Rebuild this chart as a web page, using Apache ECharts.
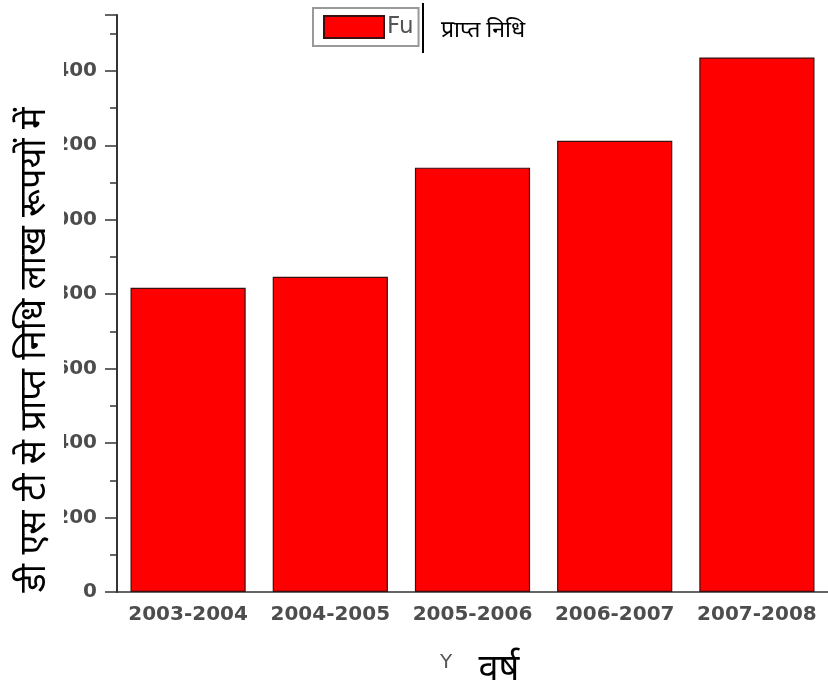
<!DOCTYPE html>
<html><head><meta charset="utf-8">
<script src="https://cdn.jsdelivr.net/npm/echarts@6/dist/echarts.min.js"></script>
<style>html,body{margin:0;padding:0;background:#fff}#c{width:828px;height:698px}</style>
</head><body><div id="c"></div>
<script>
const categories = ['2003-2004','2004-2005','2005-2006','2006-2007','2007-2008'];
const funds = [817, 847, 1140, 1212, 1436];
const yTitle = 'डी एस टी से प्राप्त निधि लाख रूपयों में';
const xTitle = 'वर्ष';
const legendTitle = 'प्राप्त निधि';

const chart = echarts.init(document.getElementById('c'));
const axisColor = '#333';
const labelFont = {fontFamily:'DejaVu Sans', fontWeight:'bold', fontSize:20, color:'#4d4d4d'};
chart.setOption({
  animation:false,
  grid:{left:117, top:15, width:713, bottom:106},
  legend:{
    data:['Funds'], left:313, top:8, itemWidth:60, itemHeight:22, icon:'rect',
    padding:[7,5,7,10], borderColor:'#999', borderWidth:2, itemGap:4,
    formatter:(n)=>n.slice(0,2),
    textStyle:{fontFamily:'DejaVu Sans', fontSize:23, color:'#555', padding:[0,0,0,-2]}
  },
  xAxis:[{
    type:'category', data:categories,
    axisLine:{lineStyle:{color:axisColor, width:1.5}},
    axisTick:{alignWithLabel:true, length:11, lineStyle:{color:axisColor, width:1.5}},
    axisLabel:Object.assign({margin:13, interval:0}, labelFont)
  },{
    type:'category', data:categories, position:'bottom',
    axisLine:{show:false}, axisLabel:{show:false},
    axisTick:{length:5, lineStyle:{color:axisColor, width:1.5}}
  }],
  yAxis:{
    type:'value', min:0, max:1550, interval:200,
    splitLine:{show:false},
    axisLine:{show:true, lineStyle:{color:axisColor, width:2}},
    axisTick:{show:true, length:12, lineStyle:{color:axisColor, width:1.5}},
    minorTick:{show:true, splitNumber:2, length:7, lineStyle:{color:axisColor, width:1.5}},
    axisLabel:Object.assign({margin:20, showMaxLabel:false}, labelFont)
  },
  series:[{
    name:'Funds', type:'bar', data:funds, barCategoryGap:'19%',
    itemStyle:{color:'#ff0000', borderColor:'#3a1010', borderWidth:1.2}
  }],
  graphic:[
    {type:'rect', z:100, shape:{x:0,y:0,width:64,height:698}, style:{fill:'#fff'}},
    {type:'line', z:101, shape:{x1:423,y1:3,x2:423,y2:53}, style:{stroke:'#000', lineWidth:2}},
    {type:'text', z:101, x:441, y:30, style:{text:legendTitle, font:'23px "Noto Sans", sans-serif', fill:'#000', textVerticalAlign:'middle'}},
    {type:'text', z:101, x:35, y:350, rotation:Math.PI/2, style:{text:yTitle, font:'36px "Noto Sans", sans-serif', fill:'#000', textAlign:'center', textVerticalAlign:'middle'}},
    {type:'text', z:101, x:446, y:663, style:{text:'Y', font:'20px "DejaVu Sans"', fill:'#555', textAlign:'center', textVerticalAlign:'middle'}},
    {type:'text', z:101, x:499, y:670, style:{text:xTitle, font:'36px "Noto Sans", sans-serif', fill:'#000', textAlign:'center', textVerticalAlign:'middle'}}
  ]
});
</script></body></html>
